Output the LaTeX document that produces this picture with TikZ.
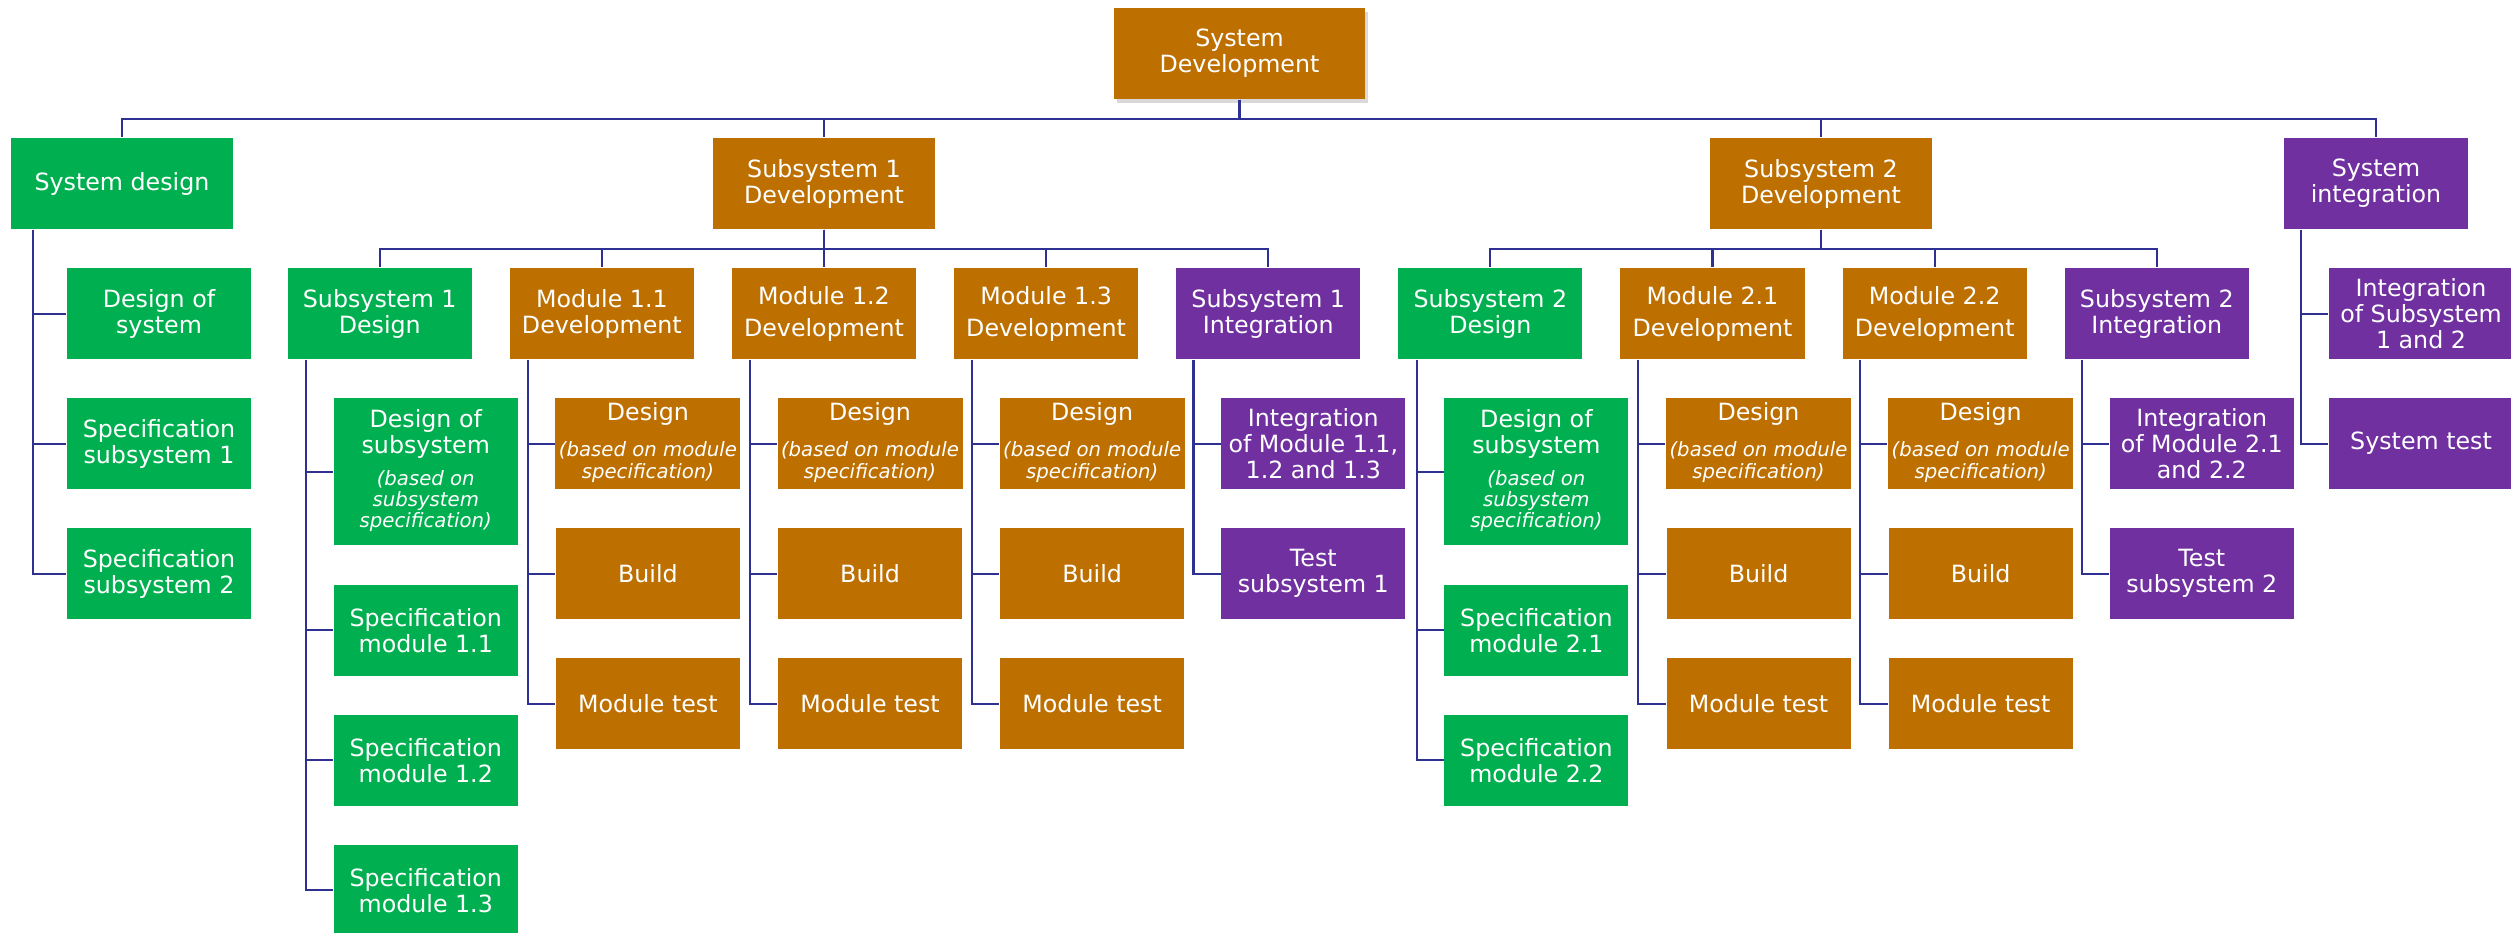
\documentclass[tikz,border=0pt]{standalone}
\usepackage{fontspec}
\usepackage{xcolor}
\usepackage{tikz}
\usetikzlibrary{shapes.geometric, arrows, shadows}
\newfontfamily\boxfont{DejaVu Sans}
% small italic remark under a box title
\newcommand{\basedon}[1]{{\fontsize{5.6pt}{6pt}\selectfont\itshape
\begin{tabular}[t]{@{}c@{}}#1\end{tabular}}}
\definecolor{devorange}{RGB}{189,112,0}
\definecolor{designgreen}{RGB}{0,176,80}
\definecolor{integpurple}{RGB}{112,48,160}
\definecolor{linkblue}{RGB}{46,49,146}
\tikzstyle{box} = [rectangle, 
minimum width=1.84cm, 
minimum height=0.91cm, 
inner sep=1pt, 
align=center, 
text=white, 
font=\boxfont\fontsize{6.75pt}{7.4pt}\selectfont]
\tikzstyle{dev} = [box, fill=devorange]
\tikzstyle{design} = [box, fill=designgreen]
\tikzstyle{integ} = [box, fill=integpurple]
\tikzstyle{wide} = [minimum width=2.22cm]
\tikzstyle{tall} = [minimum height=1.47cm]
\tikzstyle{link} = [draw=linkblue, line width=0.6pt]

\begin{document}
\begin{tikzpicture}[x=0.01cm, y=-0.01cm, node distance=1.3cm]
\useasboundingbox (0,0) rectangle (2511,933);

\node (sysdev) [dev, minimum width=2.51cm, drop shadow={opacity=0.3, shadow xshift=0.03cm, shadow yshift=-0.04cm}] at (1239.5,53.5) {System\\Development};

% main branches
\node (sysdesign) [design, wide] at (122,183.5) {System design};
\node (sub1dev) [dev, wide] at (824,183.5) {Subsystem 1\\Development};
\node (sub2dev) [dev, wide] at (1821,183.5) {Subsystem 2\\Development};
\node (sysint) [integ] at (2376,183.5) {System\\integration};

% second level, in one row
\node (mod12) [dev, below of=sub1dev] {Module 1.2\\[0.06cm]Development};
\node (mod11) [dev, left of=mod12, node distance=2.22cm] {Module 1.1\\Development};
\node (s1design) [design, left of=mod11, node distance=2.22cm] {Subsystem 1\\Design};
\node (mod13) [dev, right of=mod12, node distance=2.22cm] {Module 1.3\\[0.06cm]Development};
\node (s1integ) [integ, right of=mod13, node distance=2.22cm] {Subsystem 1\\Integration};
\node (s2design) [design, right of=s1integ, node distance=2.22cm] {Subsystem 2\\Design};
\node (mod21) [dev, right of=s2design, node distance=2.22cm] {Module 2.1\\[0.06cm]Development};
\node (mod22) [dev, right of=mod21, node distance=2.22cm] {Module 2.2\\[0.06cm]Development};
\node (s2integ) [integ, right of=mod22, node distance=2.22cm] {Subsystem 2\\Integration};

% system design
\node (dsys) [design, below of=sysdesign, xshift=0.37cm] {Design of\\system};
\node (specsub1) [design, below of=dsys] {Specification\\subsystem 1};
\node (specsub2) [design, below of=specsub1] {Specification\\subsystem 2};

% subsystem designs
\node (dsub1) [design, tall, below of=s1design, xshift=0.46cm, yshift=-0.28cm] {Design of\\subsystem\\[0.06cm]\basedon{(based on\\subsystem\\specification)}};
\node (spec11) [design, below of=dsub1, yshift=-0.285cm] {Specification\\module 1.1};
\node (spec12) [design, below of=spec11] {Specification\\module 1.2};
\node (spec13) [design, below of=spec12] {Specification\\module 1.3};
\node (dsub2) [design, tall, below of=s2design, xshift=0.46cm, yshift=-0.28cm] {Design of\\subsystem\\[0.06cm]\basedon{(based on\\subsystem\\specification)}};
\node (spec21) [design, below of=dsub2, yshift=-0.285cm] {Specification\\module 2.1};
\node (spec22) [design, below of=spec21] {Specification\\module 2.2};

% integration steps
\node (int1) [integ, below of=s1integ, xshift=0.45cm] {Integration\\of Module 1.1,\\1.2 and 1.3};
\node (test1) [integ, below of=int1] {Test\\subsystem 1};
\node (int2) [integ, below of=s2integ, xshift=0.45cm] {Integration\\of Module 2.1\\and 2.2};
\node (test2) [integ, below of=int2] {Test\\subsystem 2};
\node (intsys) [integ, below of=sysint, xshift=0.45cm] {Integration\\of Subsystem\\1 and 2};
\node (systest) [integ, below of=intsys] {System test};

% module columns
\foreach \m in {mod11,mod12,mod13,mod21,mod22} {
  \node (\m-des) [dev, below of=\m, xshift=0.46cm] {Design\\[0.1cm]\basedon{(based on module\\specification)}};
  \node (\m-build) [dev, below of=\m-des] {Build};
  \node (\m-test) [dev, below of=\m-build] {Module test};
  \draw [link] ([xshift=0.185cm]\m.south west) |- (\m-des.west);
  \draw [link] ([xshift=0.185cm]\m.south west) |- (\m-build.west);
  \draw [link] ([xshift=0.185cm]\m.south west) |- (\m-test.west);
}

% tree lines
\foreach \b in {sysdesign,sub1dev,sub2dev,sysint}
  \draw [link] (sysdev.south) -- ++(0,19) -| (\b.north);
\foreach \b in {s1design,mod11,mod12,mod13,s1integ}
  \draw [link] (sub1dev.south) -- ++(0,19) -| (\b.north);
\foreach \b in {s2design,mod21,mod22,s2integ}
  \draw [link] (sub2dev.south) -- ++(0,19) -| (\b.north);

\foreach \c in {dsys,specsub1,specsub2}
  \draw [link] ([xshift=0.23cm]sysdesign.south west) |- (\c.west);
\foreach \c in {dsub1,spec11,spec12,spec13}
  \draw [link] ([xshift=0.19cm]s1design.south west) |- (\c.west);
\foreach \c in {dsub2,spec21,spec22}
  \draw [link] ([xshift=0.19cm]s2design.south west) |- (\c.west);
\foreach \c in {int1,test1}
  \draw [link] ([xshift=0.18cm]s1integ.south west) |- (\c.west);
\foreach \c in {int2,test2}
  \draw [link] ([xshift=0.18cm]s2integ.south west) |- (\c.west);
\foreach \c in {intsys,systest}
  \draw [link] ([xshift=0.18cm]sysint.south west) |- (\c.west);

\end{tikzpicture}
\end{document}
